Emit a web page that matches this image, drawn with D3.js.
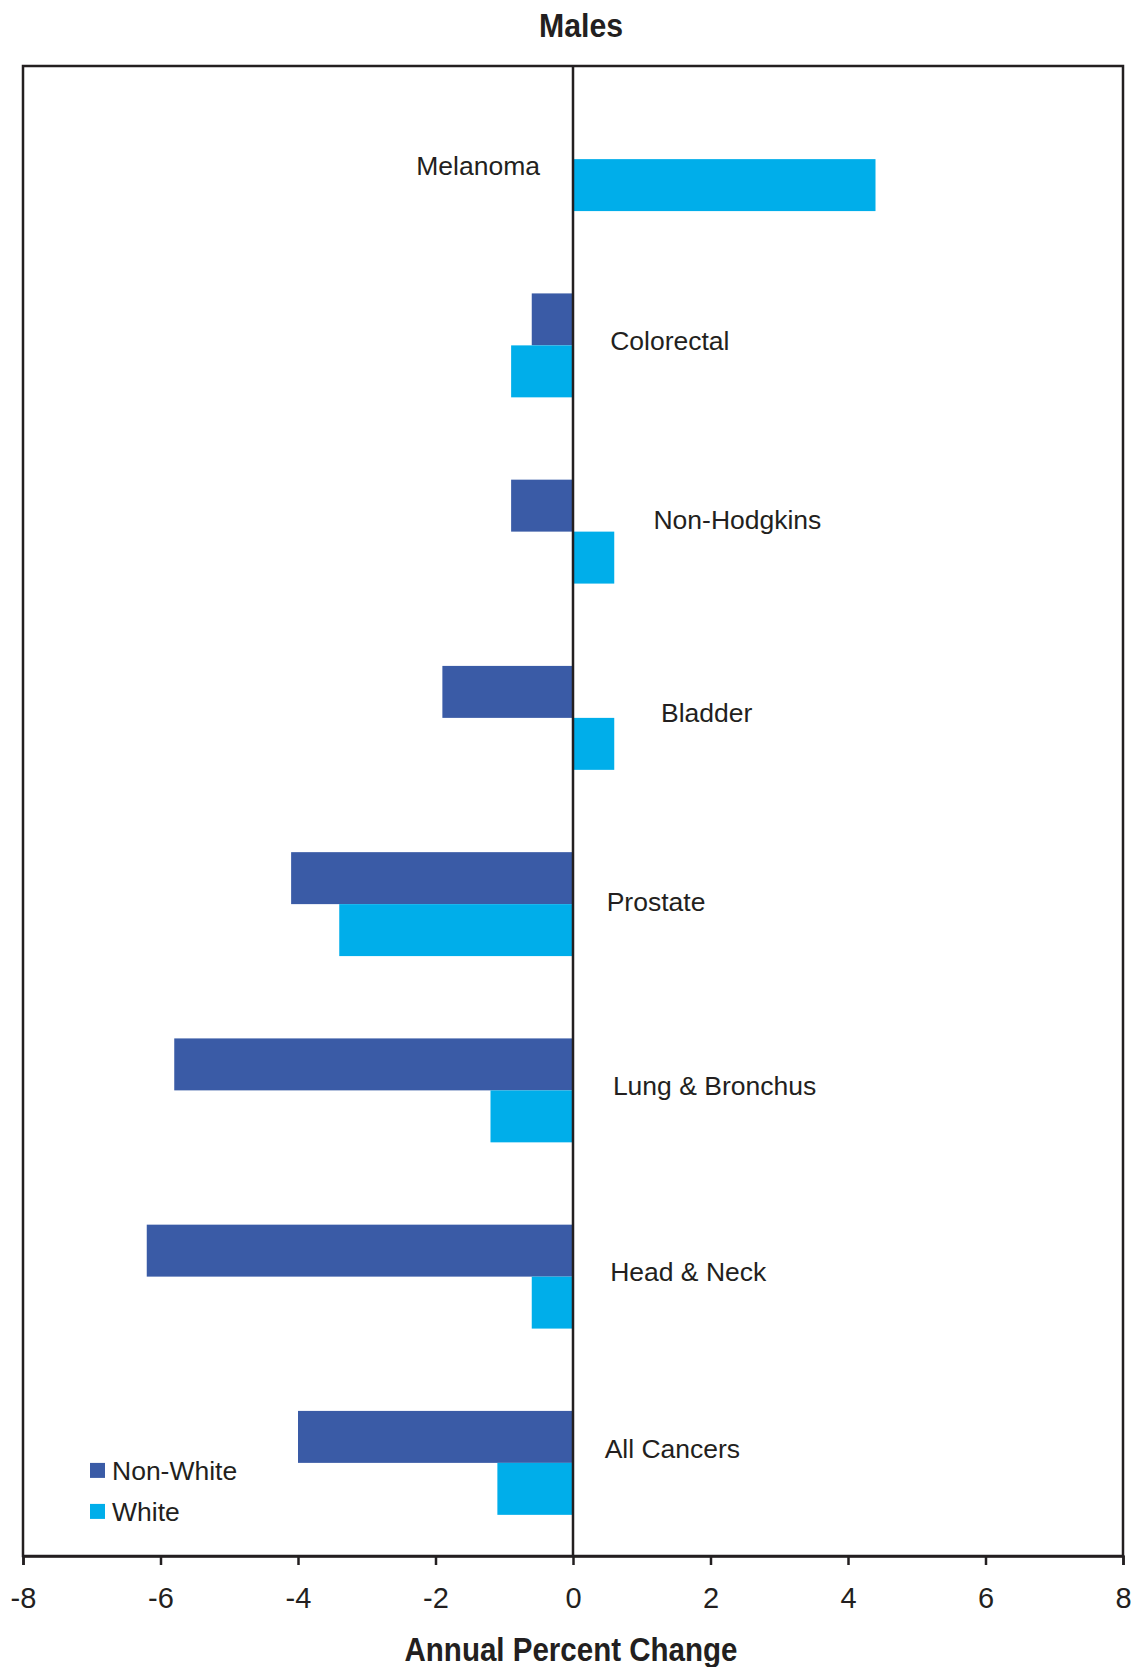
<!DOCTYPE html>
<html>
<head>
<meta charset="utf-8">
<script src="https://cdnjs.cloudflare.com/ajax/libs/d3/7.8.5/d3.min.js"></script>
<style>
    body { margin: 0; background: #fff; }
    svg text { fill: #231f20; }
</style>
</head>
<body>
<script>
// data
const categories = ["Melanoma", "Colorectal", "Non-Hodgkins", "Bladder", "Prostate", "Lung & Bronchus", "Head & Neck", "All Cancers"];
const nonWhite = [null, -0.6, -0.9, -1.9, -4.1, -5.8, -6.2, -4.0];
const white = [4.4, -0.9, 0.6, 0.6, -3.4, -1.2, -0.6, -1.1];
const seriesNames = ["Non-White", "White"];
const xTicks = [-8, -6, -4, -2, 0, 2, 4, 6, 8];

let width = 1136;
let height = 1667;
let marginTop = 66;
let marginRight = 13;
let marginBottom = 111;
let marginLeft = 23;

window.addEventListener('load', () => {
    draw();
}, false);

function draw() {
    let chartWidth = width - marginLeft - marginRight;
    let chartHeight = height - marginTop - marginBottom;

    const colors = { "Non-White": "#3a5ba6", "White": "#00aeea" };
    const font = "'Liberation Sans', Arial, Helvetica, sans-serif";

    const svg = d3.select("body")
        .append("svg")
        .attr("width", width)
        .attr("height", height);

    const g = svg.append("g")
        .attr("transform", "translate(" + marginLeft + "," + marginTop + ")");

    // scales
    const xScale = d3.scaleLinear()
        .domain([-8, 8])
        .range([0, chartWidth]);
    const yScale = d3.scaleBand()
        .domain(categories)
        .range([0, chartHeight])
        .paddingInner(0.442)
        .paddingOuter(0.221);
    const subScale = d3.scaleBand()
        .domain(seriesNames)
        .range([0, yScale.bandwidth()]);

    // bars
    const rows = categories.map((c, i) => ({ cat: c, vals: [nonWhite[i], white[i]] }));
    rows.forEach((r) => {
        r.vals.forEach((v, j) => {
            if (v === null) return;
            g.append("rect")
                .attr("x", xScale(Math.min(0, v)))
                .attr("y", yScale(r.cat) + subScale(seriesNames[j]))
                .attr("width", Math.abs(xScale(v) - xScale(0)))
                .attr("height", subScale.bandwidth())
                .style("fill", colors[seriesNames[j]]);
        });
    });

    // category labels (x in data units, dy from band centre)
    const labelPos = {
        "Melanoma": [-0.48, 16, "end"],
        "Colorectal": [0.54, 5, "start"],
        "Non-Hodgkins": [1.17, -3, "start"],
        "Bladder": [1.28, 4, "start"],
        "Prostate": [0.49, 7, "start"],
        "Lung & Bronchus": [0.58, 5, "start"],
        "Head & Neck": [0.54, 4, "start"],
        "All Cancers": [0.46, -5, "start"]
    };
    categories.forEach((c) => {
        let p = labelPos[c];
        g.append("text")
            .attr("x", xScale(p[0]))
            .attr("y", yScale(c) + yScale.bandwidth() / 2 + p[1])
            .attr("text-anchor", p[2])
            .style("font-family", font)
            .style("font-size", "26.5px")
            .text(c);
    });

    // frame
    g.append("rect")
        .attr("x", 0)
        .attr("y", 0)
        .attr("width", chartWidth)
        .attr("height", chartHeight)
        .style("fill", "none")
        .style("stroke", "#231f20")
        .style("stroke-width", 2.5);

    // zero line
    g.append("line")
        .attr("x1", xScale(0))
        .attr("x2", xScale(0))
        .attr("y1", 0)
        .attr("y2", chartHeight)
        .style("stroke", "#231f20")
        .style("stroke-width", 2.5);

    // x axis
    const xAxis = g.append("g")
        .attr("transform", "translate(0," + chartHeight + ")")
        .call(d3.axisBottom(xScale).tickValues(xTicks).tickSize(9).tickPadding(22).tickFormat(d3.format("d")));
    xAxis.select(".domain").style("stroke", "#231f20").style("stroke-width", 2.5);
    xAxis.selectAll(".tick line").style("stroke", "#231f20").style("stroke-width", 2.5);
    xAxis.selectAll(".tick text")
        .style("font-family", font)
        .style("font-size", "29px")
        .style("fill", "#231f20")
        .text((d) => String(d).replace("\u2212", "-"));

    // title (condensed look via textLength)
    svg.append("text")
        .attr("x", 581)
        .attr("y", 37)
        .attr("text-anchor", "middle")
        .attr("textLength", 84)
        .attr("lengthAdjust", "spacingAndGlyphs")
        .style("font-family", font)
        .style("font-weight", "bold")
        .style("font-size", "34px")
        .text("Males");

    // x axis title
    svg.append("text")
        .attr("x", marginLeft + xScale(0) - 2)
        .attr("y", 1661)
        .attr("text-anchor", "middle")
        .attr("textLength", 333)
        .attr("lengthAdjust", "spacingAndGlyphs")
        .style("font-family", font)
        .style("font-weight", "bold")
        .style("font-size", "33px")
        .text("Annual Percent Change");

    // legend
    const legend = g.append("g")
        .attr("transform", "translate(67," + (yScale("All Cancers") + 52) + ")");
    seriesNames.forEach((s, i) => {
        legend.append("rect")
            .attr("x", 0)
            .attr("y", i * 41)
            .attr("width", 15)
            .attr("height", 15)
            .style("fill", colors[s]);
        legend.append("text")
            .attr("x", 22)
            .attr("y", i * 41 + 17)
            .style("font-family", font)
            .style("font-size", "26.5px")
            .text(s);
    });
}
</script>
</body>
</html>
